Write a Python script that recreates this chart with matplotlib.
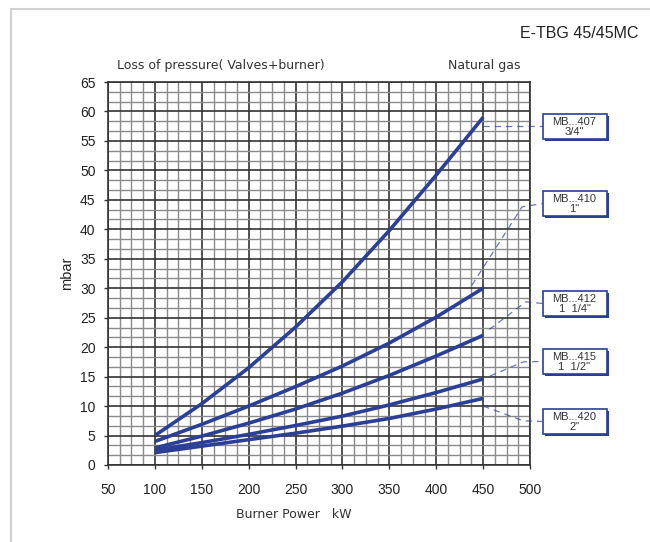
import matplotlib
matplotlib.use("Agg")
import matplotlib.pyplot as plt
from matplotlib.lines import Line2D
from matplotlib.patches import Rectangle
import numpy as np

power_kw = [100, 150, 200, 250, 300, 350, 400, 450]
mb407 = [5.0, 10.4, 16.5, 23.4, 31.1, 39.8, 49.2, 59.0]
mb410 = [4.0, 6.9, 10.0, 13.3, 16.8, 20.7, 25.1, 30.0]
mb412 = [2.9, 4.9, 7.1, 9.5, 12.2, 15.2, 18.5, 22.0]
mb415 = [2.5, 3.8, 5.2, 6.7, 8.3, 10.2, 12.3, 14.6]
mb420 = [2.1, 3.2, 4.3, 5.4, 6.6, 7.9, 9.5, 11.3]
series = [mb407, mb410, mb412, mb415, mb420]
valve_names = ["MB...407", "MB...410", "MB...412", "MB...415", "MB...420"]
valve_sizes = ["3/4\"", "1\"", "1  1/4\"", "1  1/2\"", "2\""]
x_ticks = [50, 100, 150, 200, 250, 300, 350, 400, 450, 500]
y_ticks = [0, 5, 10, 15, 20, 25, 30, 35, 40, 45, 50, 55, 60, 65]

BLUE = "#2b3f96"
W, H = 650, 542
fig = plt.figure(figsize=(6.5, 5.42), dpi=100)
ax = fig.add_axes([108 / W, 1 - 465 / H, (530 - 108) / W, (465 - 82) / H])

tickfam = ["Liberation Sans Narrow", "Liberation Sans", "DejaVu Sans"]

ax.set_xlim(50, 500)
ax.set_ylim(0, 65)
ax.set_xticks(x_ticks)
ax.set_yticks(y_ticks)
ax.set_xticks(np.arange(50, 500.1, 12.5), minor=True)
ax.set_yticks(np.arange(0, 65.1, 5 / 3), minor=True)
ax.grid(which="minor", color="#8a8a8a", lw=1.0)
ax.grid(which="major", color="#333333", lw=1.2)
ax.set_axisbelow(True)
ax.tick_params(which="minor", length=0)
ax.tick_params(which="major", length=3, width=1, color="#333333")
ax.tick_params(axis="x", pad=10)
ax.tick_params(axis="y", pad=6)
for lab in ax.get_xticklabels() + ax.get_yticklabels():
    lab.set_fontfamily(tickfam)
    lab.set_fontsize(10)
    lab.set_color("#222222")
for sp in ax.spines.values():
    sp.set_color("#333333")
    sp.set_linewidth(1.2)

for s in series:
    ax.plot(power_kw, s, color=BLUE, lw=2.6, solid_capstyle="butt", solid_joinstyle="round", zorder=3)

fig.text(294 / W, 1 - 514 / H, "Burner Power   kW",
         ha="center", va="center", fontsize=9, family="DejaVu Sans", color="#333333")
ax.set_ylabel("mbar", fontsize=10.5, family=["Liberation Sans", "DejaVu Sans"], color="#222222", labelpad=4)

# connectors and label boxes
box_tops = [114, 191, 291, 349, 409]
box_h = 25
bx0, bx1 = 542.5, 606.5
xbox = 50 + (bx0 - 108) * 450 / 422
conn = [
    (450, mb407[-1] - 1.5, 450, mb407[-1] - 1.5),
    (438, 30.5, 491.5, 43.8),
    (456.6, 23.0, 495.7, 27.7),
    (457.3, 15.1, 492.8, 17.5),
    (450.2, 10.0, 492.8, 7.5),
]
for (x0, y0, x1, y1), top, name, size in zip(conn, box_tops, valve_names, valve_sizes):
    ymid_px = top + box_h / 2
    yb = (465 - ymid_px) * 65 / 383
    ax.plot([x0, x1, xbox], [y0, y1, yb if x0 != x1 else y1], color=BLUE, lw=0.9,
            ls=(0, (5, 4)), alpha=0.7, clip_on=False, zorder=4)
    fig.add_artist(Rectangle((bx0 / W + 2 / W, 1 - (top + box_h + 2) / H), (bx1 - bx0) / W, box_h / H,
                             transform=fig.transFigure, facecolor=BLUE, edgecolor="none"))
    fig.add_artist(Rectangle((bx0 / W, 1 - (top + box_h) / H), (bx1 - bx0) / W, box_h / H,
                             transform=fig.transFigure, facecolor="white", edgecolor=BLUE, lw=1.2))
    xc = (bx0 + bx1) / 2 / W
    fig.text(xc, 1 - (top + 8) / H, name, ha="center", va="center",
             fontsize=8, family=["Liberation Sans", "DejaVu Sans"], color="#333333")
    fig.text(xc, 1 - (top + 18) / H, size, ha="center", va="center",
             fontsize=8, family=["Liberation Sans", "DejaVu Sans"], color="#333333")

fig.text(638 / W, 1 - 33 / H, "E-TBG 45/45MC", ha="right", va="center", fontsize=11.5,
         family=["Liberation Sans", "DejaVu Sans"], color="#222222")
fig.text(117 / W, 1 - 65 / H, "Loss of pressure( Valves+burner)", ha="left", va="center", fontsize=9,
         family="DejaVu Sans", color="#333333")
fig.text(521 / W, 1 - 65 / H, "Natural gas", ha="right", va="center", fontsize=9,
         family="DejaVu Sans", color="#333333")

# outer frame
fig.add_artist(Line2D([11 / W, 11 / W], [0, 1 - 9 / H], transform=fig.transFigure, color="#d0d0d0", lw=1.5))
fig.add_artist(Line2D([11 / W, 1], [1 - 9 / H, 1 - 9 / H], transform=fig.transFigure, color="#d0d0d0", lw=1.5))

fig.savefig("out.png", dpi=100)
